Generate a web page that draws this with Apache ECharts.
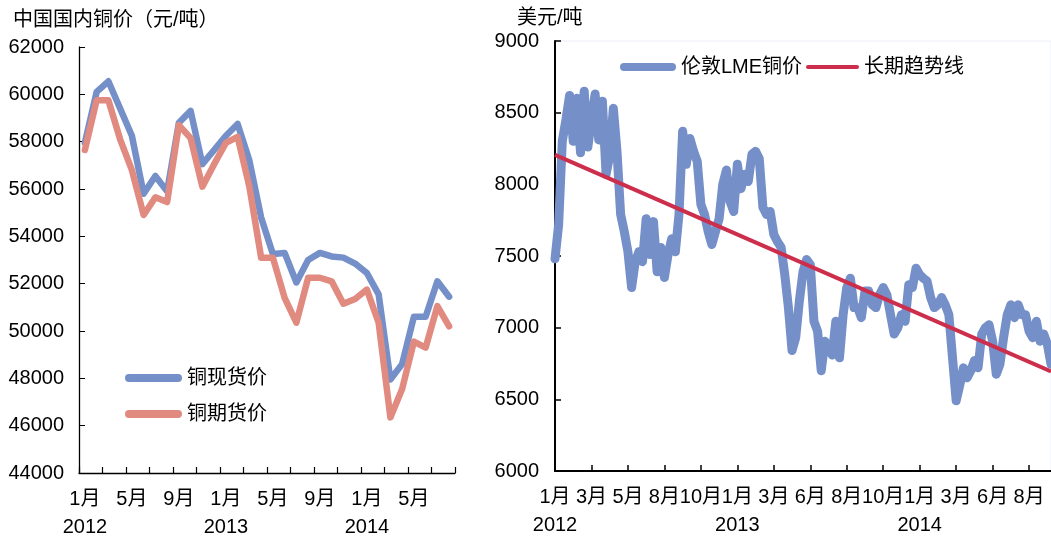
<!DOCTYPE html>
<html>
<head>
<meta charset="utf-8">
<script src="https://cdn.jsdelivr.net/npm/echarts@6/dist/echarts.min.js"></script>
<style>
  html, body { margin: 0; padding: 0; background: #fff; }
  #chart { width: 1051px; height: 541px; }
</style>
</head>
<body>
<div id="chart"></div>
<script>
// 左图：中国国内铜价（月度）
const cnMonths = [
  '1月\n2012', '2月', '3月', '4月', '5月', '6月', '7月', '8月', '9月', '10月', '11月', '12月',
  '1月\n2013', '2月', '3月', '4月', '5月', '6月', '7月', '8月', '9月', '10月', '11月', '12月',
  '1月\n2014', '2月', '3月', '4月', '5月', '6月', '7月', '8月'
]
const spotPrice = [
  57950, 60100, 60550, 59400, 58250, 55800, 56550, 55900, 58800, 59300, 57050, 57650,
  58250, 58750, 57200, 54800, 53250, 53300, 52050, 53000, 53300, 53150, 53100, 52850,
  52450, 51550, 47950, 48600, 50600, 50600, 52100, 51450
]
const futuresPrice = [
  57650, 59750, 59750, 58100, 56800, 54900, 55650, 55450, 58700, 58150, 56100, 57050,
  57950, 58200, 56100, 53100, 53100, 51400, 50350, 52250, 52250, 52100, 51150, 51350,
  51750, 50350, 46350, 47550, 49550, 49300, 51050, 50200
]

// 右图：伦敦LME铜价（约每5个交易日一个点，每10个点一个刻度）
const lmeTickLabels = ['1月', '3月', '5月', '8月', '10月', '1月', '3月', '6月', '8月', '10月', '1月', '3月', '6月', '8月']
const lmeYears = ['2012', '2013', '2014']
const lmePrice = [
  7480, 7720, 8300, 8450, 8620, 8300, 8600, 8220, 8650, 8260,
  8450, 8630, 8310, 8580, 8070, 8200, 8530, 8230, 7790, 7670,
  7530, 7280, 7460, 7530, 7460, 7760, 7510, 7740, 7390, 7560,
  7350, 7510, 7620, 7530, 7790, 8370, 8140, 8320, 8230, 8160,
  7860, 7790, 7670, 7580, 7670, 7760, 8000, 8100, 7880, 7810,
  8140, 7970, 8070, 8020, 8210, 8230, 8180, 7840, 7790, 7810,
  7650, 7600, 7560, 7370, 7140, 6840, 6930, 7185, 7390, 7475,
  7440, 7045, 6975, 6700, 6905, 6860, 6810, 7045, 6790, 7090,
  7280, 7345, 7140, 7140, 7070, 7255, 7255, 7160, 7140, 7230,
  7280, 7230, 7090, 6955, 7000, 7090, 7045, 7300, 7280, 7415,
  7370, 7345, 7325, 7210, 7140, 7160, 7210, 7160, 7090, 6790,
  6490, 6600, 6720, 6650, 6700, 6770, 6720, 6955, 7000, 7020,
  6905, 6675, 6745, 6930, 7090, 7160, 7070, 7160, 7090, 7090,
  6975, 6930, 7045, 6905, 6955, 6885, 6745
]
const trendStart = 8205
const trendEnd = 6694

const lmeDays = lmePrice.map((v, i) => String(i))

const fontFamily = "'Liberation Sans', 'Noto Sans CJK SC', sans-serif"
const blue = '#758FC8'
const salmon = '#E08A80'
const crimson = '#CC2E4C'

function pill(w, h) {
  const r = h / 2
  return 'path://M' + r + ',0H' + (w - r) + 'A' + r + ',' + r + ',0,0,1,' + (w - r) + ',' + h +
    'H' + r + 'A' + r + ',' + r + ',0,0,1,' + r + ',0Z'
}

const chart = echarts.init(document.getElementById('chart'))

const option = {
  backgroundColor: '#fff',
  animation: false,
  textStyle: { fontFamily: fontFamily },
  title: [
    {
      text: '中国国内铜价（元/吨）',
      left: 8, top: 5,
      textStyle: { fontSize: 20, fontWeight: 'normal', color: '#000', fontFamily: fontFamily }
    },
    {
      text: '美元/吨',
      left: 512, top: 3,
      textStyle: { fontSize: 20, fontWeight: 'normal', color: '#000', fontFamily: fontFamily }
    }
  ],
  legend: [
    {
      data: [
        { name: '铜现货价', icon: pill(57, 8), itemStyle: { color: blue } },
        { name: '铜期货价', icon: pill(57, 8), itemStyle: { color: salmon } }
      ],
      orient: 'vertical',
      left: 120, top: 363,
      itemWidth: 57, itemHeight: 8, itemGap: 16,
      textStyle: { fontSize: 20, color: '#000', fontFamily: fontFamily }
    },
    {
      data: [{ name: '伦敦LME铜价', icon: pill(56, 8), itemStyle: { color: blue } }],
      left: 615, top: 52,
      itemWidth: 56, itemHeight: 8,
      textStyle: { fontSize: 20, color: '#000', fontFamily: fontFamily }
    },
    {
      data: [{ name: '长期趋势线', icon: pill(53, 4), itemStyle: { color: crimson } }],
      left: 801, top: 52,
      itemWidth: 53, itemHeight: 4,
      textStyle: { fontSize: 20, color: '#000', fontFamily: fontFamily }
    }
  ],
  grid: [
    { left: 79, top: 47, width: 376, height: 427 },
    {
      left: 555, top: 41, right: 0, height: 430,
      show: true, borderColor: '#eceef8', borderWidth: 1, backgroundColor: 'transparent'
    }
  ],
  xAxis: [
    {
      gridIndex: 0,
      type: 'category',
      data: cnMonths,
      boundaryGap: true,
      axisLine: { lineStyle: { color: '#000', width: 1.3 } },
      axisTick: { show: true, inside: true, length: 6, interval: 1, lineStyle: { color: '#000', width: 1.2 } },
      axisLabel: {
        interval: 3, margin: 12, fontSize: 20, lineHeight: 28, color: '#000', fontFamily: fontFamily,
        showMinLabel: true
      },
      splitLine: { show: false }
    },
    {
      gridIndex: 1,
      type: 'category',
      data: lmeDays,
      boundaryGap: false,
      axisLine: { lineStyle: { color: '#000', width: 2 } },
      axisTick: { show: true, inside: true, length: 6, interval: 9, lineStyle: { color: '#000', width: 1.5 } },
      axisLabel: {
        interval: 9, margin: 16, fontSize: 20, color: '#000', fontFamily: fontFamily,
        showMinLabel: true,
        formatter: (v, i) => (i % 10 === 0 && lmeTickLabels[i / 10]) ? lmeTickLabels[i / 10] : ''
      },
      splitLine: { show: false }
    },
    {
      // 年份标签
      gridIndex: 1,
      type: 'category',
      data: lmeDays,
      boundaryGap: false,
      position: 'bottom',
      axisLine: { show: false },
      axisTick: { show: false },
      axisLabel: {
        interval: 49, margin: 44, fontSize: 20, color: '#000', fontFamily: fontFamily,
        showMinLabel: true,
        formatter: (v, i) => (i % 50 === 0 && lmeYears[i / 50]) ? lmeYears[i / 50] : ''
      },
      splitLine: { show: false }
    }
  ],
  yAxis: [
    {
      gridIndex: 0,
      type: 'value',
      min: 44000, max: 62000, interval: 2000,
      axisLine: { show: true, lineStyle: { color: '#000', width: 1.3 } },
      axisTick: { show: true, inside: true, length: 6, lineStyle: { color: '#000' } },
      axisLabel: { margin: 15, fontSize: 20, color: '#000', fontFamily: fontFamily, formatter: v => String(v) },
      splitLine: { show: false }
    },
    {
      gridIndex: 1,
      type: 'value',
      min: 6000, max: 9000, interval: 500,
      axisLine: { show: true, lineStyle: { color: '#000', width: 2 } },
      axisTick: { show: true, inside: true, length: 6, lineStyle: { color: '#000', width: 1.5 } },
      axisLabel: { margin: 16, fontSize: 20, color: '#000', fontFamily: fontFamily, formatter: v => String(v) },
      splitLine: { show: false }
    }
  ],
  series: [
    {
      name: '铜现货价',
      type: 'line',
      xAxisIndex: 0, yAxisIndex: 0,
      data: spotPrice,
      symbol: 'none',
      color: blue,
      lineStyle: { width: 6.5, color: blue, cap: 'round', join: 'round' }
    },
    {
      name: '铜期货价',
      type: 'line',
      xAxisIndex: 0, yAxisIndex: 0,
      data: futuresPrice,
      symbol: 'none',
      color: salmon,
      lineStyle: { width: 6.5, color: salmon, cap: 'round', join: 'round' }
    },
    {
      name: '伦敦LME铜价',
      type: 'line',
      xAxisIndex: 1, yAxisIndex: 1,
      data: lmePrice,
      symbol: 'none',
      color: blue,
      lineStyle: { width: 9, color: blue, cap: 'round', join: 'round' }
    },
    {
      name: '长期趋势线',
      type: 'line',
      xAxisIndex: 1, yAxisIndex: 1,
      data: [[0, trendStart], [lmePrice.length - 1, trendEnd]],
      symbol: 'none',
      color: crimson,
      lineStyle: { width: 4, color: crimson }
    }
  ]
}

chart.setOption(option)
window.addEventListener('resize', () => chart.resize())
</script>
</body>
</html>
